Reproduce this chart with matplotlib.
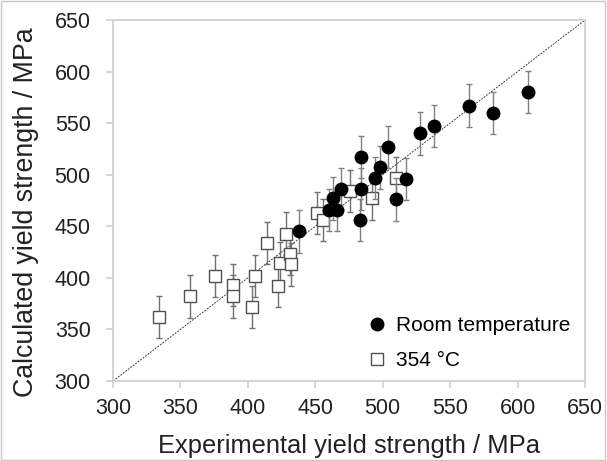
import matplotlib
matplotlib.use("Agg")
import matplotlib.pyplot as plt
from matplotlib.patches import Rectangle
from matplotlib.lines import Line2D

plt.rcParams['font.family'] = ['Liberation Sans', 'DejaVu Sans']

# Room temperature data (experimental, calculated)
rt_exp = [608, 582, 564, 538, 528, 504, 498, 494, 517, 510, 484, 484, 483, 469, 463, 460, 466, 438]
rt_calc = [580, 560, 567, 547, 540, 527, 507, 497, 496, 476, 517, 486, 456, 486, 477, 466, 466, 445]

# 354 °C data
ht_exp = [334, 357, 376, 389, 389, 403, 405, 414, 422, 424, 428, 431, 432, 451, 456, 476, 492, 510]
ht_calc = [362, 382, 402, 393, 382, 372, 402, 434, 392, 414, 443, 423, 413, 463, 456, 484, 477, 497]

err = 20.5
ticks = [300, 350, 400, 450, 500, 550, 600, 650]

fig = plt.figure(figsize=(6.07, 4.61), dpi=100)
ax = fig.add_axes([113/607, 1-381/461, (585-113)/607, (381-20)/461])

fig.patches.append(Rectangle((0.002, 0.003), 0.995, 0.994, transform=fig.transFigure,
                             fill=False, edgecolor='#c8c8c8', linewidth=1.0))

ax.plot([300, 650], [300, 650], linestyle=(0, (2.0, 1.2)), color='#404040', linewidth=0.7, zorder=1)

ax.errorbar(ht_exp, ht_calc, yerr=err, fmt='s', markersize=9, markerfacecolor='white',
            markeredgecolor='#505050', markeredgewidth=1.0, ecolor='#707070', elinewidth=1.0,
            capsize=2.2, capthick=1.0, zorder=2)
ax.errorbar(rt_exp, rt_calc, yerr=err, fmt='o', markersize=9, markerfacecolor='black',
            markeredgecolor='black', ecolor='#808080', elinewidth=1.0,
            capsize=2.2, capthick=1.0, zorder=3)

ax.set_xlim(300, 650)
ax.set_ylim(300, 650)
ax.set_xticks(ticks)
ax.set_yticks(ticks)
ax.tick_params(axis='both', labelsize=15.5, color='#d0d0d0', length=5, width=1.2, labelcolor='#222222')
ax.tick_params(axis='x', pad=7)
ax.tick_params(axis='y', pad=11)
for s in ax.spines.values():
    s.set_color('#d0d0d0')
    s.set_linewidth(1.3)

ax.set_xlabel('Experimental yield strength / MPa', fontsize=18.4, color='#222222', labelpad=11)
ax.set_ylabel('Calculated yield strength / MPa', fontsize=19.3, color='#222222', labelpad=11, y=0.468)

h_rt = Line2D([], [], marker='o', linestyle='none', markersize=9, markerfacecolor='black', markeredgecolor='black')
h_ht = Line2D([], [], marker='s', linestyle='none', markersize=9, markerfacecolor='white', markeredgecolor='#505050')
ax.legend([h_rt, h_ht], ['Room temperature', '354 °C'], loc='lower right', bbox_to_anchor=(1.0, -0.01),
          frameon=False, fontsize=15, handletextpad=0.3, labelspacing=0.75, borderaxespad=0.3,
          handlelength=1.2)

fig.savefig('out.png', dpi=100)
